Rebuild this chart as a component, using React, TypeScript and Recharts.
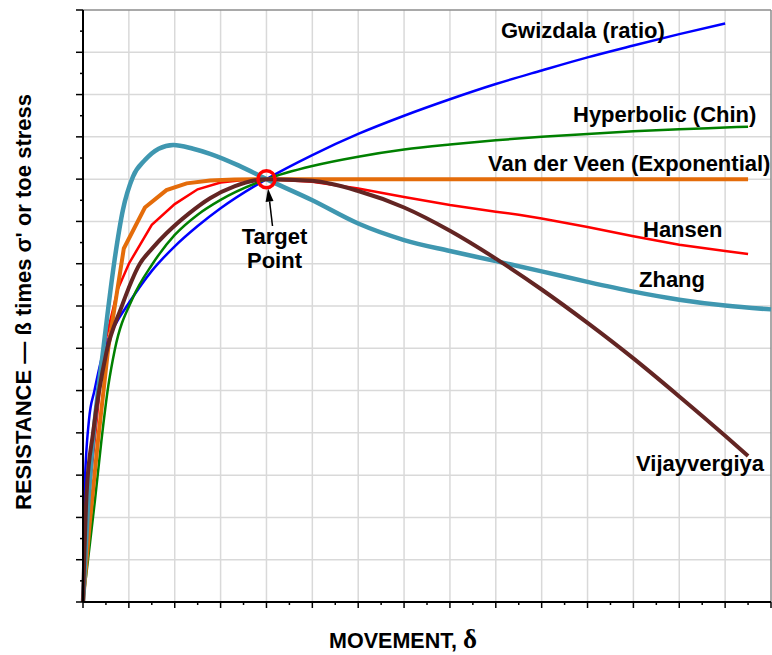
import React from 'react'
import { LineChart, Line, XAxis, YAxis, CartesianGrid, ReferenceLine, ReferenceDot } from 'recharts'

// [movement, resistance] pairs
const GWIZDALA = [[0, 0], [0.03, 2.5], [0.13, 4.3], [0.25, 5.0], [0.44, 5.9], [0.7, 6.55], [1, 7.07], [1.5, 7.83], [2, 8.41], [2.5, 8.89], [3, 9.31], [4, 10], [5, 10.57], [6, 11.07], [7, 11.5], [8, 11.89], [9, 12.25], [10, 12.57], [11, 12.88], [12, 13.16], [13, 13.43], [14, 13.68]]
const HYPERBOLIC = [[0, 0], [0.12, 1.1], [0.26, 2.4], [0.4, 3.8], [0.55, 5.1], [0.69, 5.95], [1.09, 7.2], [1.5, 7.97], [2, 8.68], [2.5, 9.16], [3, 9.51], [4, 10], [5, 10.31], [6, 10.53], [7, 10.7], [8, 10.82], [9, 10.92], [10, 11.0], [11, 11.07], [12, 11.13], [13, 11.18], [14, 11.22], [14.5, 11.24]]
const VAN_DER_VEEN = [[0, 0], [0.15, 1.9], [0.33, 3.85], [0.55, 6.0], [0.89, 8.36], [1.35, 9.33], [1.82, 9.74], [2.26, 9.9], [2.77, 9.97], [3.3, 9.99], [4, 10], [14.5, 10]]
const HANSEN = [[0, 0], [0.12, 2.4], [0.29, 4.2], [0.45, 6.0], [0.76, 7.4], [1, 8.0], [1.5, 8.92], [2, 9.41], [2.5, 9.76], [3, 9.92], [3.5, 9.98], [4, 10], [5, 9.94], [6, 9.78], [7, 9.58], [8, 9.39], [9, 9.23], [9.5, 9.16], [10, 9.07], [11, 8.87], [12, 8.65], [13, 8.45], [14, 8.3], [14.5, 8.23]]
const ZHANG = [[0, 0], [0.1, 2.1], [0.22, 3.85], [0.45, 6.05], [0.69, 8.1], [0.87, 9.27], [1.09, 10.06], [1.35, 10.45], [1.65, 10.72], [1.97, 10.81], [2.4, 10.72], [2.77, 10.6], [3.4, 10.32], [4, 10], [5, 9.5], [6, 8.95], [7, 8.56], [8, 8.3], [9, 8.06], [10, 7.82], [11, 7.57], [12, 7.34], [13, 7.15], [14, 7.01], [15, 6.92]]
const VIJAYVERGIYA = [[0, 0], [0.08, 2.6], [0.22, 4.0], [0.51, 5.9], [0.83, 6.95], [1.24, 8.0], [1.5, 8.35], [1.82, 8.72], [2.3, 9.18], [2.77, 9.55], [3.3, 9.83], [4, 10], [5, 9.96], [6, 9.72], [7, 9.33], [8, 8.78], [9, 8.12], [10, 7.39], [11, 6.6], [12, 5.76], [13, 4.86], [14, 3.93], [14.5, 3.45]]

const TARGET = { x: 4, y: 10 }

const X_TICKS = Array.from({ length: 31 }, (_, i) => i / 2)
const Y_TICKS = Array.from({ length: 29 }, (_, i) => i / 2)
const X_GRID = [1, 2, 3, 4, 5, 6, 7, 8, 9, 10, 11, 12, 13, 14]
const Y_GRID = [1, 2, 3, 4, 5, 6, 7, 8, 9, 10, 11, 12, 13]

const toPts = (arr: number[][]) => arr.map(([x, y]) => ({ x, y }))

const FONT = '"Liberation Sans", Arial, sans-serif'

const XTick = (props: any) => {
  const { x, y, payload } = props
  const major = Number.isInteger(payload.value)
  return <line x1={x} x2={x} y1={y} y2={y + (major ? 6 : 3)} stroke="#000" strokeWidth={1.5} />
}

const YTick = (props: any) => {
  const { x, y, payload } = props
  const major = Number.isInteger(payload.value)
  return <line x1={x} x2={x - (major ? 7 : 3)} y1={y} y2={y} stroke="#000" strokeWidth={1.5} />
}

const labelStyle = { fontFamily: FONT, fontWeight: 700, fontSize: 22, fill: '#000' }

export default function App() {
  return (
    <div style={{ position: 'absolute', left: 0, top: 0, width: 772, height: 655, background: '#fff' }}>
      <LineChart width={772} height={655} margin={{ top: 10, right: 1, left: 70, bottom: 0 }}>
        <CartesianGrid stroke="#d9d9d9" strokeWidth={1.5} horizontalValues={Y_GRID} verticalValues={X_GRID} />
        <XAxis dataKey="x" type="number" domain={[0, 15]} ticks={X_TICKS} interval={0} height={53}
          tick={<XTick />} tickLine={false} tickSize={0} tickMargin={0} axisLine={{ stroke: '#000', strokeWidth: 2 }} />
        <YAxis type="number" domain={[0, 14]} ticks={Y_TICKS} interval={0} width={13}
          tick={<YTick />} tickLine={false} tickSize={0} tickMargin={0} axisLine={{ stroke: '#000', strokeWidth: 2 }} />
        <ReferenceLine x={15} stroke="#8c8c8c" strokeWidth={1.5} />
        <ReferenceLine y={14} stroke="#8c8c8c" strokeWidth={1.5} />
        <Line data={toPts(GWIZDALA)} dataKey="y" type="monotone" stroke="#0000FF" strokeWidth={2.5} dot={false} isAnimationActive={false} />
        <Line data={toPts(HYPERBOLIC)} dataKey="y" type="monotone" stroke="#008000" strokeWidth={2.5} dot={false} isAnimationActive={false} />
        <Line data={toPts(HANSEN)} dataKey="y" type="linear" stroke="#FF0000" strokeWidth={2.5} dot={false} isAnimationActive={false} />
        <Line data={toPts(VAN_DER_VEEN)} dataKey="y" type="linear" stroke="#E46C0A" strokeWidth={4} dot={false} isAnimationActive={false} />
        <Line data={toPts(ZHANG)} dataKey="y" type="monotone" stroke="#3F97B0" strokeWidth={4.5} dot={false} isAnimationActive={false} />
        <Line data={toPts(VIJAYVERGIYA)} dataKey="y" type="monotone" stroke="#632523" strokeWidth={4} dot={false} isAnimationActive={false} />
        <ReferenceDot x={TARGET.x} y={TARGET.y} r={8.5} fill="none" stroke="#FF0000" strokeWidth={3.5} />
      </LineChart>
      <svg width={772} height={655} style={{ position: 'absolute', left: 0, top: 0, pointerEvents: 'none' }}>
        <text x={501} y={38} style={labelStyle}>Gwizdala (ratio)</text>
        <text x={573} y={122} style={labelStyle}>Hyperbolic (Chin)</text>
        <text x={488} y={171} style={labelStyle}>Van der Veen (Exponential)</text>
        <text x={643} y={237} style={labelStyle}>Hansen</text>
        <text x={639} y={287} style={labelStyle}>Zhang</text>
        <text x={636} y={471} style={labelStyle}>Vijayvergiya</text>
        <text x={274.5} y={244} textAnchor="middle" style={labelStyle}>Target</text>
        <text x={274.5} y={268} textAnchor="middle" style={labelStyle}>Point</text>
        <line x1={272.5} y1={226} x2={269.6} y2={201.4} stroke="#000" strokeWidth={1.5} />
        <polygon points="268,188.5 273.5,200.9 265.6,201.9" fill="#000" />
        <text x={403} y={648} textAnchor="middle" style={{ ...labelStyle, fontSize: 21.5 }}>
          MOVEMENT, <tspan style={{ fontFamily: '"Liberation Serif", "Times New Roman", serif', fontSize: 27 }}>δ</tspan>
        </text>
        <text x={31} y={302} textAnchor="middle" transform="rotate(-90 31 302)" style={{ ...labelStyle, fontSize: 22 }}>
          RESISTANCE — ß times σ' or toe stress
        </text>
      </svg>
    </div>
  )
}
